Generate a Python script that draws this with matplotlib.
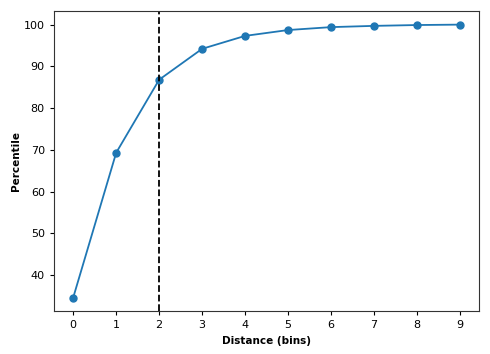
import matplotlib
matplotlib.use("Agg")
import matplotlib.pyplot as plt

distance = [0, 1, 2, 3, 4, 5, 6, 7, 8, 9]
percentile = [34.6, 69.3, 86.8, 94.2, 97.3, 98.7, 99.4, 99.7, 99.9, 100.0]
threshold = 2

fig = plt.figure(figsize=(4.9, 3.54), dpi=100)
ax = fig.add_axes([0.110, 0.121, 0.868, 0.848])
ax.plot(distance, percentile, marker='o', color='#1f77b4', linewidth=1.3, markersize=5)
ax.axvline(threshold, color='black', linestyle='--', linewidth=1.3)
ax.set_xticks(distance)
ax.tick_params(labelsize=8, width=0.8, length=3)
ax.set_xlabel('Distance (bins)', fontsize=7.5, fontweight='bold')
ax.set_ylabel('Percentile', fontsize=7.5, fontweight='bold', labelpad=2)
for s in ax.spines.values():
    s.set_linewidth(0.8)
    s.set_color('#333333')
fig.savefig('out.png', dpi=100)
